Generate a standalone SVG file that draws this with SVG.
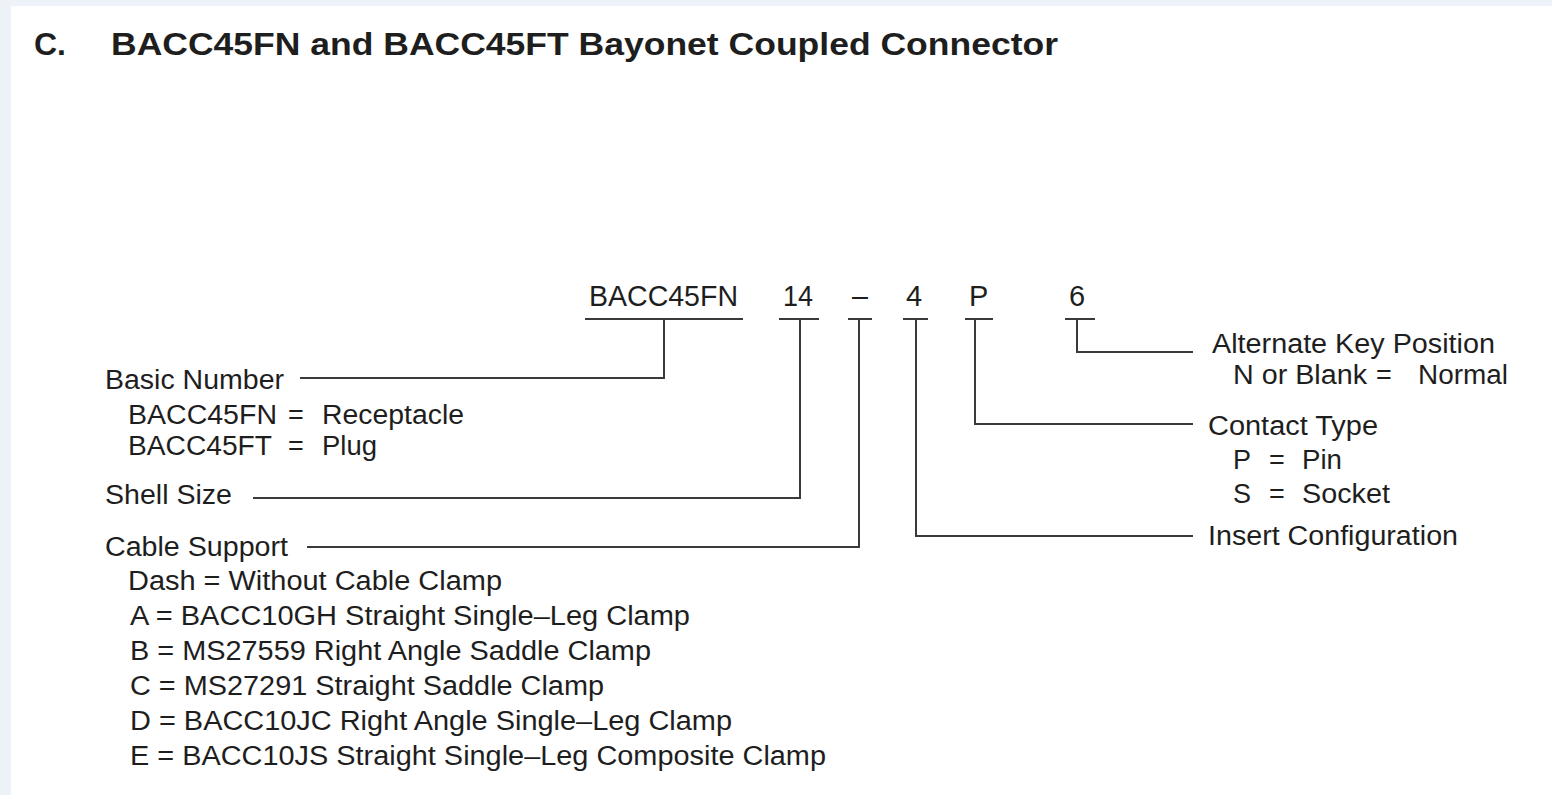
<svg xmlns="http://www.w3.org/2000/svg" width="1552" height="795" viewBox="0 0 1552 795">
  <style>
    text { font-family: "Liberation Sans", Arial, Helvetica, sans-serif; fill: #1e1e1e; }
    .title { font-size: 32px; font-weight: bold; }
    .code { font-size: 29px; }
    .lbl { font-size: 27px; }
    .ln { stroke: #3a3a3a; stroke-width: 2; fill: none; }
  </style>
  <rect x="0" y="0" width="1552" height="795" fill="#ffffff"/>
  <rect x="0" y="0" width="1552" height="6" fill="#eef3fa"/>
  <rect x="0" y="0" width="11" height="795" fill="#edf2f9"/>

  <g id="title">
    <text class="title" x="34" y="55">C.</text>
    <text class="title" x="111" y="55" textLength="947" lengthAdjust="spacingAndGlyphs">BACC45FN and BACC45FT Bayonet Coupled Connector</text>
  </g>

  <g id="code">
    <text class="code" x="589" y="306" textLength="149" lengthAdjust="spacingAndGlyphs">BACC45FN</text>
    <text class="code" x="783" y="306" textLength="30" lengthAdjust="spacingAndGlyphs">14</text>
    <text class="code" x="852" y="306" textLength="16" lengthAdjust="spacingAndGlyphs">–</text>
    <text class="code" x="906" y="306">4</text>
    <text class="code" x="969" y="306">P</text>
    <text class="code" x="1069" y="306">6</text>
  </g>

  <g id="connectors">
    <line class="ln" x1="585" y1="319" x2="743" y2="319"/>
    <line class="ln" x1="779" y1="319" x2="819" y2="319"/>
    <line class="ln" x1="848" y1="319" x2="872" y2="319"/>
    <line class="ln" x1="903" y1="319" x2="928" y2="319"/>
    <line class="ln" x1="965" y1="319" x2="993" y2="319"/>
    <line class="ln" x1="1065" y1="319" x2="1095" y2="319"/>
    <polyline class="ln" points="664,319 664,378 300,378"/>
    <polyline class="ln" points="800,319 800,498 253,498"/>
    <polyline class="ln" points="859,319 859,547 307,547"/>
    <polyline class="ln" points="916,319 916,536 1193,536"/>
    <polyline class="ln" points="975,319 975,424 1193,424"/>
    <polyline class="ln" points="1077,319 1077,352 1193,352"/>
  </g>

  <g id="basic-number">
    <text class="lbl" x="105" y="389" textLength="179" lengthAdjust="spacingAndGlyphs">Basic Number</text>
    <text class="lbl" x="128" y="424" textLength="149" lengthAdjust="spacingAndGlyphs">BACC45FN</text>
    <text class="lbl" x="288" y="424">=</text>
    <text class="lbl" x="322" y="424" textLength="142" lengthAdjust="spacingAndGlyphs">Receptacle</text>
    <text class="lbl" x="128" y="455" textLength="144" lengthAdjust="spacingAndGlyphs">BACC45FT</text>
    <text class="lbl" x="288" y="455">=</text>
    <text class="lbl" x="322" y="455" textLength="55" lengthAdjust="spacingAndGlyphs">Plug</text>
  </g>

  <g id="shell-size">
    <text class="lbl" x="105" y="504" textLength="127" lengthAdjust="spacingAndGlyphs">Shell Size</text>
  </g>

  <g id="cable-support">
    <text class="lbl" x="105" y="556" textLength="183" lengthAdjust="spacingAndGlyphs">Cable Support</text>
    <text class="lbl" x="128" y="590" textLength="374" lengthAdjust="spacingAndGlyphs">Dash = Without Cable Clamp</text>
    <text class="lbl" x="130" y="625" textLength="560" lengthAdjust="spacingAndGlyphs">A = BACC10GH Straight Single–Leg Clamp</text>
    <text class="lbl" x="130" y="660" textLength="521" lengthAdjust="spacingAndGlyphs">B = MS27559 Right Angle Saddle Clamp</text>
    <text class="lbl" x="130" y="695" textLength="474" lengthAdjust="spacingAndGlyphs">C = MS27291 Straight Saddle Clamp</text>
    <text class="lbl" x="130" y="730" textLength="602" lengthAdjust="spacingAndGlyphs">D = BACC10JC Right Angle Single–Leg Clamp</text>
    <text class="lbl" x="130" y="765" textLength="696" lengthAdjust="spacingAndGlyphs">E = BACC10JS Straight Single–Leg Composite Clamp</text>
  </g>

  <g id="alternate-key">
    <text class="lbl" x="1212" y="353" textLength="283" lengthAdjust="spacingAndGlyphs">Alternate Key Position</text>
    <text class="lbl" x="1233" y="384" textLength="134" lengthAdjust="spacingAndGlyphs">N or Blank</text>
    <text class="lbl" x="1376" y="384">=</text>
    <text class="lbl" x="1418" y="384" textLength="90" lengthAdjust="spacingAndGlyphs">Normal</text>
  </g>

  <g id="contact-type">
    <text class="lbl" x="1208" y="435" textLength="170" lengthAdjust="spacingAndGlyphs">Contact Type</text>
    <text class="lbl" x="1233" y="469">P</text>
    <text class="lbl" x="1269" y="469">=</text>
    <text class="lbl" x="1302" y="469" textLength="40" lengthAdjust="spacingAndGlyphs">Pin</text>
    <text class="lbl" x="1233" y="503">S</text>
    <text class="lbl" x="1269" y="503">=</text>
    <text class="lbl" x="1302" y="503" textLength="88" lengthAdjust="spacingAndGlyphs">Socket</text>
  </g>

  <g id="insert-config">
    <text class="lbl" x="1208" y="545" textLength="250" lengthAdjust="spacingAndGlyphs">Insert Configuration</text>
  </g>
</svg>
